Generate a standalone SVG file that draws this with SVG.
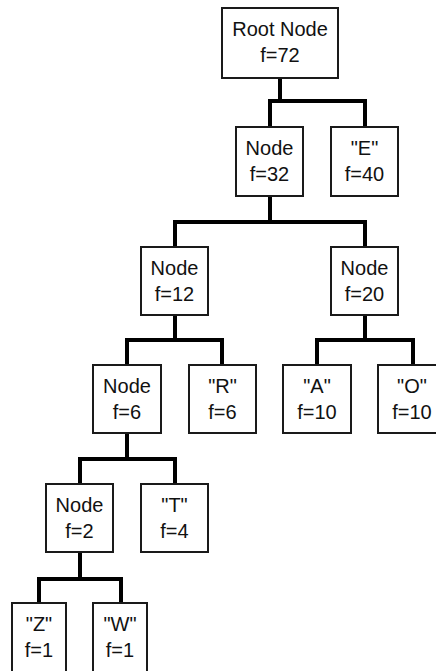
<svg xmlns="http://www.w3.org/2000/svg" width="436" height="671" viewBox="0 0 436 671">
<style>
.box{fill:#fff;stroke:#1a1a1a;stroke-width:2}
.lbl{font-family:"Liberation Sans",Arial,sans-serif;font-size:20px;fill:#111;text-anchor:middle}
.con{fill:none;stroke:#000;stroke-width:4;stroke-linejoin:miter;stroke-linecap:butt}
</style>
<rect width="436" height="671" fill="#fff"/>
<g id="connectors">
<path class="con" d="M280,79 V101 M268,101 H367 M270,101 V126 M365,101 V126"/>
<path class="con" d="M270,197 V222 M173,222 H367 M175,222 V246 M365,222 V246"/>
<path class="con" d="M175,316 V340 M125,340 H224 M127,340 V364 M222,340 V364"/>
<path class="con" d="M365,316 V340 M315,340 H415 M317,340 V364 M413,340 V364"/>
<path class="con" d="M127,434 V459 M78,459 H177 M80,459 V483 M175,459 V483"/>
<path class="con" d="M80,553 V579 M37,579 H123 M39,579 V602 M121,579 V602"/>
</g>
<g id="root"><rect class="box" x="222" y="8" width="116" height="70"/><text class="lbl" x="280" y="36">Root Node</text><text class="lbl" x="280" y="62">f=72</text></g>
<g id="n32"><rect class="box" x="236" y="127" width="67" height="69"/><text class="lbl" x="269.5" y="155">Node</text><text class="lbl" x="269.5" y="181">f=32</text></g>
<g id="e"><rect class="box" x="331" y="127" width="67" height="69"/><text class="lbl" x="364.5" y="155">"E"</text><text class="lbl" x="364.5" y="181">f=40</text></g>
<g id="n12"><rect class="box" x="141" y="247" width="67" height="68"/><text class="lbl" x="174.5" y="275">Node</text><text class="lbl" x="174.5" y="301">f=12</text></g>
<g id="n20"><rect class="box" x="331" y="247" width="67" height="68"/><text class="lbl" x="364.5" y="275">Node</text><text class="lbl" x="364.5" y="301">f=20</text></g>
<g id="n6"><rect class="box" x="93" y="365" width="68" height="68"/><text class="lbl" x="127" y="393">Node</text><text class="lbl" x="127" y="419">f=6</text></g>
<g id="r"><rect class="box" x="189" y="365" width="67" height="68"/><text class="lbl" x="222.5" y="393">"R"</text><text class="lbl" x="222.5" y="419">f=6</text></g>
<g id="a"><rect class="box" x="283" y="365" width="68" height="68"/><text class="lbl" x="317" y="393">"A"</text><text class="lbl" x="317" y="419">f=10</text></g>
<g id="o"><rect class="box" x="378" y="365" width="68" height="68"/><text class="lbl" x="412" y="393">"O"</text><text class="lbl" x="412" y="419">f=10</text></g>
<g id="n2"><rect class="box" x="46" y="484" width="67" height="68"/><text class="lbl" x="79.5" y="512">Node</text><text class="lbl" x="79.5" y="538">f=2</text></g>
<g id="t"><rect class="box" x="141" y="484" width="67" height="68"/><text class="lbl" x="174.5" y="512">"T"</text><text class="lbl" x="174.5" y="538">f=4</text></g>
<g id="z"><rect class="box" x="12" y="603" width="54" height="70"/><text class="lbl" x="39" y="631">"Z"</text><text class="lbl" x="39" y="657">f=1</text></g>
<g id="w"><rect class="box" x="93" y="603" width="54" height="70"/><text class="lbl" x="120" y="631">"W"</text><text class="lbl" x="120" y="657">f=1</text></g>
</svg>
